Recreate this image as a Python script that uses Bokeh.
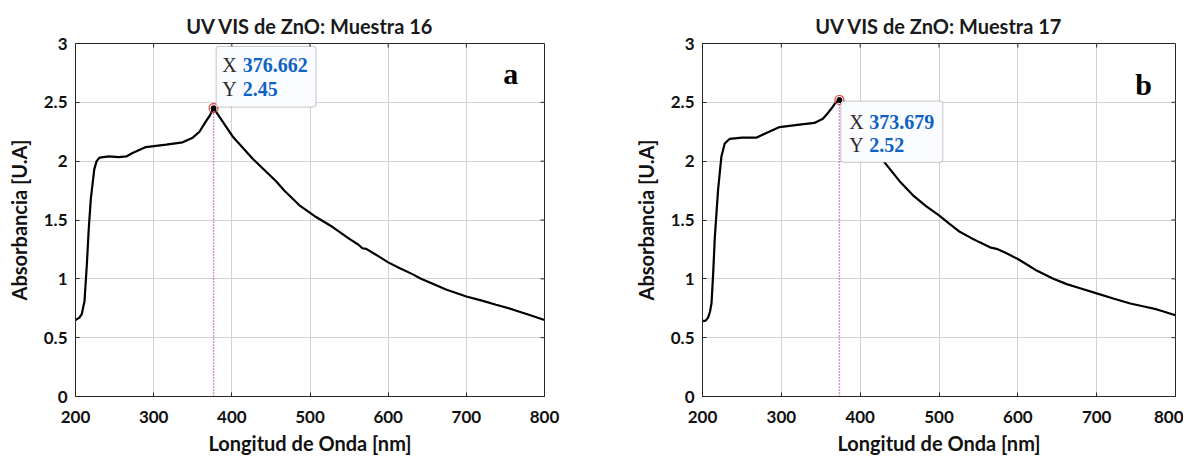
from bokeh.plotting import figure
from bokeh.layouts import row
from bokeh.models import FixedTicker, CustomJSTickFormatter, Label, BoxAnnotation
from bokeh.embed import file_html
from bokeh.resources import INLINE

# ---------------- data ----------------
x_ticks = [200, 300, 400, 500, 600, 700, 800]
y_ticks = [0, 0.5, 1, 1.5, 2, 2.5, 3]

wl16 = [200, 205, 208, 211.5, 214.5, 217, 219.6, 224, 227, 230.7, 243, 255, 265, 273,
        290, 316, 337, 350, 358.6, 367, 372, 376.662, 401, 426.7, 456.6, 467, 477.9, 486.5,
        497, 507.8, 529, 550.4, 562, 567, 572, 593, 600, 615, 631, 642, 660, 674, 687, 700,
        720, 738, 759, 780, 800]
ab16 = [0.65, 0.67, 0.70, 0.81, 1.12, 1.43, 1.68, 1.93, 2.00, 2.03, 2.04, 2.035, 2.04, 2.07,
        2.12, 2.14, 2.16, 2.20, 2.25, 2.34, 2.39, 2.45, 2.21, 2.02, 1.83, 1.75, 1.68, 1.625,
        1.575, 1.525, 1.44, 1.34, 1.29, 1.26, 1.255, 1.17, 1.14, 1.09, 1.04, 1.0, 0.95, 0.91, 0.88, 0.85,
        0.815, 0.78, 0.74, 0.695, 0.65]

wl17 = [200, 204, 207.1, 209.5, 211.4, 213.5, 215.6, 219.8, 224, 228.2, 234.6, 250, 268.3,
        281, 297.8, 323, 342, 352.7, 358, 363.3, 368, 371.7, 373.679, 400, 415, 430.9, 450,
        467, 484, 500, 513, 526.3, 540, 551.7, 566, 573, 585, 600, 612, 623.8, 645, 662, 679, 700,
        720, 742.6, 760, 776.5, 800]
ab17 = [0.64, 0.645, 0.67, 0.72, 0.79, 1.04, 1.35, 1.76, 2.04, 2.15, 2.19, 2.20, 2.20,
        2.24, 2.29, 2.31, 2.325, 2.36, 2.40, 2.445, 2.49, 2.51, 2.52, 2.28, 2.14, 1.99, 1.83,
        1.71, 1.615, 1.54, 1.47, 1.40, 1.35, 1.31, 1.265, 1.255, 1.22, 1.168, 1.12, 1.07, 1.0, 0.955, 0.92, 0.876,
        0.835, 0.79, 0.765, 0.74, 0.69]

peak16 = (376.662, 2.45)
peak17 = (373.679, 2.52)
titles = ["UV VIS de ZnO: Muestra 16", "UV VIS de ZnO: Muestra 17"]
letters = ["a", "b"]

SANS = "Lato"
SERIF = "Liberation Serif"
AX = "#262626"


def make_panel(wl, ab, peak, title, letter, width, mb_left, mb_right,
               box_dx, box_dy, txt_dx, txt_dy, let_pos):
    p = figure(width=width, height=457, x_range=(200, 800), y_range=(0, 3),
               output_backend="svg", toolbar_location=None, title=title,
               min_border_left=mb_left, min_border_right=mb_right,
               min_border_top=43, min_border_bottom=57)
    p.title.align = "center"
    p.title.text_font = SANS
    p.title.text_font_size = "20px"
    p.title.text_font_style = "bold"
    p.title.text_color = "#1a1a1a"
    p.title.standoff = 11
    p.outline_line_color = AX
    p.outline_line_width = 1
    p.background_fill_color = "white"
    p.border_fill_color = "white"

    fmt = CustomJSTickFormatter(code="return String(tick);")
    for ax, ticks in ((p.xaxis[0], x_ticks), (p.yaxis[0], y_ticks)):
        ax.ticker = FixedTicker(ticks=ticks)
        ax.formatter = fmt
        ax.major_tick_in = 4
        ax.major_tick_out = 0
        ax.minor_tick_line_color = None
        ax.axis_line_color = AX
        ax.major_tick_line_color = AX
        ax.major_label_text_font = SANS
        ax.major_label_text_font_style = "bold"
        ax.major_label_text_font_size = "17px"
        ax.major_label_text_color = "#111111"
        ax.axis_label_text_font = SANS
        ax.axis_label_text_font_style = "bold"
        ax.axis_label_text_font_size = "20px"
        ax.axis_label_text_color = "#111111"
    p.xaxis[0].axis_label = "Longitud de Onda [nm]"
    p.yaxis[0].axis_label = "Absorbancia [U.A]"
    p.xaxis[0].major_label_standoff = 14
    p.xaxis[0].axis_label_standoff = 5
    p.yaxis[0].major_label_standoff = 8
    p.yaxis[0].axis_label_standoff = 10

    p.xgrid.ticker = FixedTicker(ticks=x_ticks)
    p.ygrid.ticker = FixedTicker(ticks=y_ticks)
    p.grid.grid_line_color = "#d2d2d2"
    p.grid.grid_line_width = 1

    # inward ticks on the top and right edges of the box
    xr0, xr1, yr0, yr1 = 200, 800, 0, 3
    tx = x_ticks[1:-1]
    p.segment(x0=tx, y0=[yr1] * len(tx), x1=tx, y1=[yr1 - 0.034] * len(tx),
              line_color=AX, line_width=1)
    ty = y_ticks[1:-1]
    p.segment(x0=[xr1] * len(ty), y0=ty, x1=[xr1 - 5.1] * len(ty), y1=ty,
              line_color=AX, line_width=1)

    px, py = peak
    # dotted drop line from the datatip
    p.segment(x0=[px], y0=[0], x1=[px], y1=[py], line_color="#b02cb0",
              line_dash="1 2", line_width=1.5)
    p.line(wl, ab, line_color="black", line_width=2.2)
    p.scatter([px], [py], size=9, marker="circle", fill_color=None,
              line_color="#e0403a", line_width=1.2)
    p.scatter([px], [py], size=5, marker="circle", fill_color="black", line_color="black")

    # datatip box
    box = BoxAnnotation(left=px + box_dx[0], right=px + box_dx[1],
                        bottom=py + box_dy[0], top=py + box_dy[1],
                        fill_color="#fbfcff", fill_alpha=1.0,
                        line_color="#6a6a6a", line_width=1.2, border_radius=3)
    p.add_layout(box)
    for i, (lab, val) in enumerate((("X", f"{px:g}"), ("Y", f"{py:g}"))):
        yy = py + txt_dy[i]
        p.add_layout(Label(x=px + txt_dx[0], y=yy, text=lab, text_font=SERIF,
                           text_font_size="20px", text_color="#2a2a2a",
                           text_baseline="alphabetic"))
        p.add_layout(Label(x=px + txt_dx[1], y=yy, text=val, text_font=SERIF,
                           text_font_size="20px", text_font_style="bold",
                           text_color="#0d63c4", text_baseline="alphabetic"))

    p.add_layout(Label(x=let_pos[0], y=let_pos[1], text=letter, text_font=SERIF,
                       text_font_size="30px", text_font_style="bold",
                       text_color="black", text_baseline="alphabetic"))
    return p


p1 = make_panel(wl16, ab16, peak16, titles[0], letters[0], width=607,
                mb_left=75, mb_right=63,
                box_dx=(3.3, 131.1), box_dy=(0.01, 0.525),
                txt_dx=(11.0, 37.4), txt_dy=(0.364, 0.16), let_pos=(747.3, 2.744))
p2 = make_panel(wl17, ab17, peak17, titles[1], letters[1], width=576,
                mb_left=95, mb_right=8,
                box_dx=(1.7, 131.1), box_dy=(-0.53, -0.01),
                txt_dx=(12.6, 38.0), txt_dy=(-0.185, -0.382), let_pos=(748.9, 2.648))

layout = row(p1, p2)
open("out.html", "w").write(file_html(layout, INLINE))
